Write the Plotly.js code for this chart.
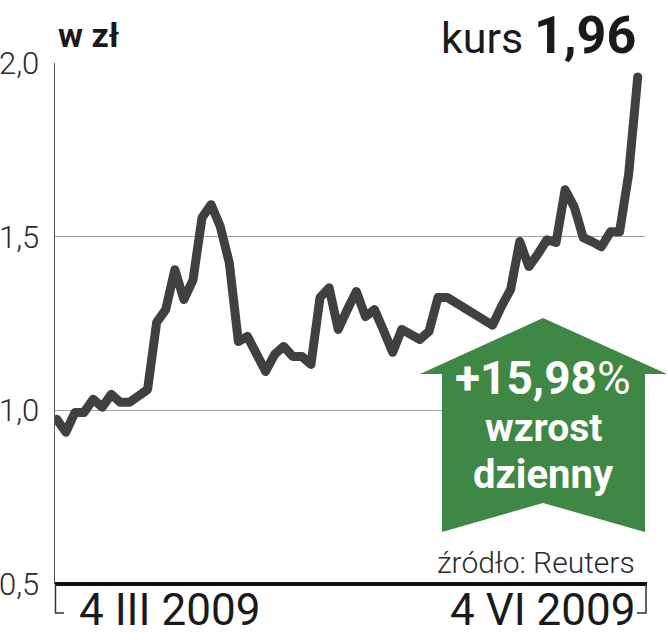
<!DOCTYPE html>
<html>
<head>
<meta charset="utf-8">
<script src="https://cdn.plot.ly/plotly-3.0.1.min.js"></script>
<style>
html,body{margin:0;padding:0;background:#fff;}
#chart{width:668px;height:640px;}
</style>
</head>
<body>
<div id="chart"></div>
<script>
// trading days 4 III 2009 – 4 VI 2009
const dates = [
  "2009-03-04","2009-03-05","2009-03-06","2009-03-09","2009-03-10","2009-03-11","2009-03-12","2009-03-13",
  "2009-03-16","2009-03-17","2009-03-18","2009-03-19","2009-03-20","2009-03-23","2009-03-24","2009-03-25",
  "2009-03-26","2009-03-27","2009-03-30","2009-03-31",
  "2009-04-01","2009-04-02","2009-04-03","2009-04-06","2009-04-07","2009-04-08","2009-04-09","2009-04-10",
  "2009-04-14","2009-04-15","2009-04-16","2009-04-17","2009-04-20","2009-04-21","2009-04-22","2009-04-23",
  "2009-04-24","2009-04-27","2009-04-28","2009-04-29","2009-04-30",
  "2009-05-04","2009-05-05","2009-05-06","2009-05-07","2009-05-08","2009-05-11","2009-05-12","2009-05-13",
  "2009-05-14","2009-05-15","2009-05-18","2009-05-19","2009-05-20","2009-05-21","2009-05-22","2009-05-25",
  "2009-05-26","2009-05-27","2009-05-28","2009-05-29",
  "2009-06-01","2009-06-02","2009-06-03","2009-06-04"
];
const prices = [
  0.974,0.937,0.994,0.994,1.032,1.009,1.046,1.023,1.023,1.043,
  1.060,1.253,1.290,1.405,1.319,1.375,1.555,1.592,1.530,1.425,
  1.198,1.213,1.155,1.112,1.161,1.184,1.155,1.155,1.132,1.325,
  1.353,1.233,1.290,1.342,1.270,1.290,1.230,1.167,1.233,1.220,
  1.204,1.227,1.325,1.325,1.310,1.295,1.282,1.267,1.245,1.300,
  1.348,1.486,1.414,1.450,1.491,1.483,1.635,1.586,1.497,1.485,
  1.471,1.514,1.514,1.680,1.960
];
const yTickVals = [0.5, 1.0, 1.5, 2.0];
const yTickText = ["0,5", "1,0", "1,5", "2,0"];
const xLabelFirst = "4 III 2009";
const xLabelLast = "4 VI 2009";
const unitLabel = "w zł";
const kursLabel = "kurs";
const kursValue = "1,96";
const changeValue = "+15,98";
const changeUnit = "%";
const changeLine2 = "wzrost";
const changeLine3 = "dzienny";
const sourceLabel = "źródło: Reuters";

// layout geometry (pixels)
const W = 668, H = 640, ML = 55, MR = 23, MT = 63, MB = 56;
const PW = W - ML - MR, PH = H - MT - MB;
const px = x => (x - ML) / PW;
const py = y => (H - MB - y) / PH;
const pt = (x, y) => px(x).toFixed(4) + "," + py(y).toFixed(4);

const FONT = "Roboto, 'Liberation Sans', sans-serif";
const green = "#3f8744";

const arrowPath = "M" + pt(543,318) + " L" + pt(667,374) + " L" + pt(645,374) +
  " L" + pt(645,532) + " L" + pt(543,503) + " L" + pt(442,532) + " L" + pt(442,374) +
  " L" + pt(420,374) + " Z";

const trace = {
  type: "scatter", mode: "lines",
  x: dates, y: prices,
  line: {color: "#404040", width: 9},
  hoverinfo: "skip"
};

const layout = {
  width: W, height: H,
  margin: {l: ML, r: MR, t: MT, b: MB, pad: 0},
  paper_bgcolor: "#fff", plot_bgcolor: "#fff",
  showlegend: false,
  xaxis: {
    type: "category", range: [-0.2, 64.8],
    showticklabels: false, showgrid: false, zeroline: false, showline: false, ticks: "",
    fixedrange: true
  },
  yaxis: {
    range: [0.5, 2.0], tickvals: yTickVals, ticktext: yTickText,
    showgrid: true, gridcolor: "#a0a0a0", gridwidth: 1.5,
    showline: true, linecolor: "#555", linewidth: 1.5,
    zeroline: false, ticks: "", ticklabelstandoff: 8,
    tickfont: {family: FONT, size: 31, color: "#2a2a2a", weight: 300},
    fixedrange: true
  },
  shapes: [
    {type: "line", xref: "paper", yref: "paper", x0: px(55), x1: px(647), y0: py(584), y1: py(584),
     line: {color: "#111", width: 4}},
    {type: "path", xref: "paper", yref: "paper",
     path: "M" + pt(55.5,584) + " L" + pt(55.5,613) + " L" + pt(64,613),
     line: {color: "#333", width: 1.5}},
    {type: "path", xref: "paper", yref: "paper",
     path: "M" + pt(646,584) + " L" + pt(646,613) + " L" + pt(637,613),
     line: {color: "#333", width: 1.5}},
    {type: "path", xref: "paper", yref: "paper", path: arrowPath,
     fillcolor: green, line: {width: 0}}
  ],
  annotations: [
    {xref: "paper", yref: "paper", x: px(56), y: py(13), xanchor: "left", yanchor: "top",
     text: "<b>" + unitLabel + "</b>", showarrow: false,
     font: {family: FONT, size: 34, color: "#1a1a1a"}},
    {xref: "paper", yref: "paper", x: px(638), y: py(3), xanchor: "right", yanchor: "top",
     text: kursLabel + ' <span style="font-size:52px"><b>' + kursValue + '</b></span>', showarrow: false,
     font: {family: FONT, size: 43, color: "#1a1a1a"}},
    {xref: "paper", yref: "paper", x: px(543), y: py(378), xanchor: "center", yanchor: "middle",
     text: "<b>" + changeValue + "</b>" + changeUnit, showarrow: false,
     font: {family: FONT, size: 46, color: "#fff"}},
    {xref: "paper", yref: "paper", x: px(543), y: py(428), xanchor: "center", yanchor: "middle",
     text: "<b>" + changeLine2 + "</b>", showarrow: false,
     font: {family: FONT, size: 39, color: "#fff"}},
    {xref: "paper", yref: "paper", x: px(543), y: py(474), xanchor: "center", yanchor: "middle",
     text: "<b>" + changeLine3 + "</b>", showarrow: false,
     font: {family: FONT, size: 40, color: "#fff"}},
    {xref: "paper", yref: "paper", x: px(637), y: py(562), xanchor: "right", yanchor: "middle",
     text: sourceLabel, showarrow: false,
     font: {family: FONT, size: 30, color: "#2a2a2a", weight: 300}},
    {xref: "x", yref: "paper", x: dates[0], y: py(610), xanchor: "left", yanchor: "middle",
     xshift: 20, text: xLabelFirst, showarrow: false,
     font: {family: FONT, size: 44, color: "#1a1a1a"}},
    {xref: "x", yref: "paper", x: dates[dates.length - 1], y: py(610), xanchor: "right", yanchor: "middle",
     xshift: -1, text: xLabelLast, showarrow: false,
     font: {family: FONT, size: 44, color: "#1a1a1a"}}
  ]
};

Plotly.newPlot("chart", [trace], layout, {staticPlot: true, displayModeBar: false}).then(gd => {
  gd.querySelectorAll("path.js-line").forEach(p => {
    p.style.strokeLinejoin = "round";
    p.style.strokeLinecap = "round";
  });
});
</script>
</body>
</html>
